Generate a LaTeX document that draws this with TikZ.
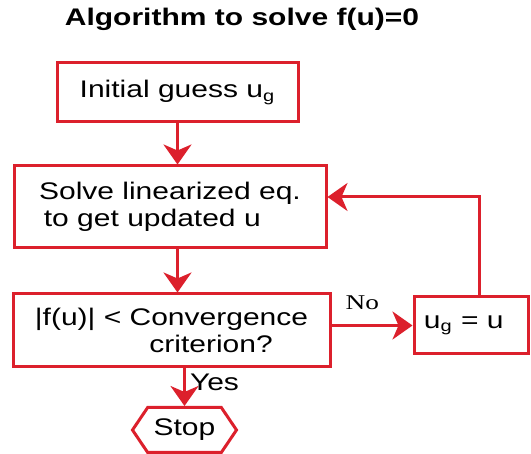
\documentclass[tikz,border=0pt]{standalone}
\usepackage{fontspec}
\setmainfont{Liberation Sans}[FakeStretch=1.25]
\newfontfamily\noserif{Liberation Serif}[FakeStretch=1.3]
\usetikzlibrary{arrows.meta,shapes.symbols}
\tikzset{box/.style = {draw=flowred, line width=1.5pt, inner sep=0pt, font=\fontsize{12}{14.5}\selectfont},
  flow/.style = {draw=flowred, line width=1.5pt, -{Stealth[length=10pt, width=14pt, inset=3pt]}}}
\definecolor{flowred}{RGB}{220,32,44}

\begin{document}
\begin{tikzpicture}[x=.5pt, y=-.5pt]
      \useasboundingbox (0,0) rectangle (531,454);
      \node (title) at (242,19) {\fontsize{12}{15}\selectfont\bfseries Algorithm to solve f(u)=0};
      \node [box, minimum width=120.5pt, minimum height=29.5pt] (guess) at (177.5,92.5) {Initial guess u\textsubscript{g}};
      \node [box, minimum width=156pt, minimum height=41pt, align=left] (solve) at (170,207)
        {Solve linearized eq.\\[-1pt] \hspace*{.2em}to get updated u};
      \node [box, minimum width=158.5pt, minimum height=36.5pt, align=center] (check) at (171.5,330.5)
        {|f(u)| < Convergence\\[-1pt] \hspace*{3.3em}criterion?};
      \node [box, minimum width=57pt, minimum height=28.5pt] (update) at (471,325.5) {u\textsubscript{g} = u\hspace*{.6em}};
      \node [box, signal, signal to=west and east, signal pointer angle=112, minimum width=52pt, minimum height=22.5pt] (stop) at (184.5,430) {Stop};
      \draw [flow] (guess.south) -- (guess.south |- solve.north);
      \draw [flow] (guess.south |- solve.south) -- (guess.south |- check.north);
      \draw [flow] (stop.north |- check.south) -- (stop.north) node [pos=.38, right, inner sep=2pt] (yes) {\fontsize{12}{14}\selectfont Yes};
      \draw [flow] (update.west -| check.east) -- (update.west) node [pos=.38, above=4pt] (no) {\noserif\fontsize{10.5}{12}\selectfont No};
      \draw [flow] ([xshift=4pt]update.north) |- ([yshift=5pt]solve.east);
    \end{tikzpicture}
\end{document}
